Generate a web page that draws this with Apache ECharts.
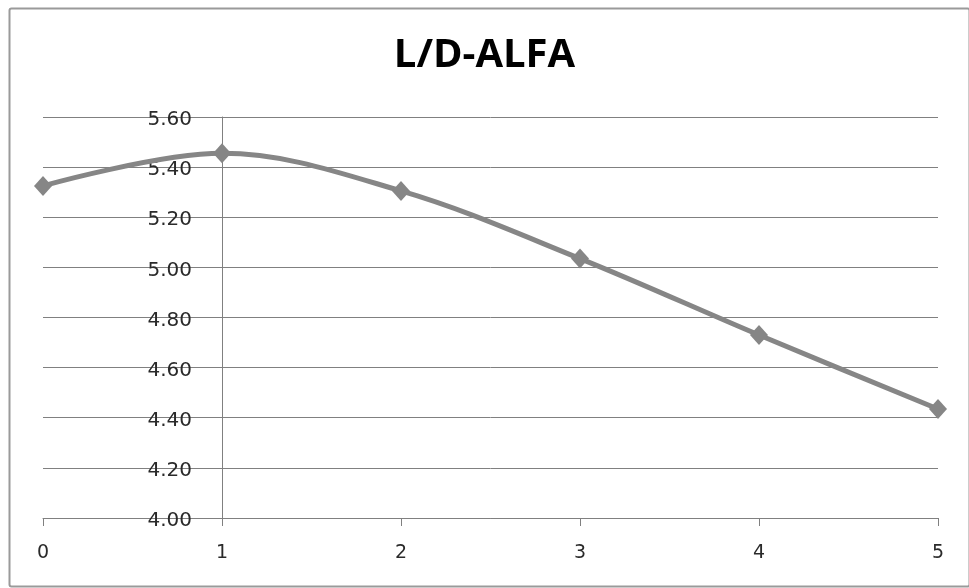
<!DOCTYPE html>
<html><head><meta charset="utf-8">
<script src="https://cdn.jsdelivr.net/npm/echarts@6/dist/echarts.min.js"></script>
<style>html,body{margin:0;padding:0;background:#fff}#c{width:969px;height:588px}</style>
</head><body><div id="c"></div>
<script>
const titleText = 'L/D-ALFA';
const alfa = [0, 1, 2, 3, 4, 5];
const ldRatio = [5.325, 5.455, 5.305, 5.035, 4.73, 4.435];
const yTicks = {min: 4.0, max: 5.6, step: 0.2};
const xTicks = {min: 0, max: 5, step: 1};

const chart = echarts.init(document.getElementById('c'));
chart.setOption({
  animation: false,
  backgroundColor: '#fff',
  graphic: [{
    type: 'rect', left: 7, top: 6,
    shape: {width: 960, height: 578, r: 2},
    style: {fill: 'none', stroke: '#9a9a9a', lineWidth: 2}, z: -1
  }],
  title: {
    text: titleText, left: 'center', top: 31,
    textStyle: {fontFamily: 'Open Sans', fontWeight: 'bold', fontSize: 40, color: '#000'}
  },
  grid: {left: 43, right: 31, top: 117, bottom: 70},
  xAxis: {
    type: 'value', min: xTicks.min, max: xTicks.max, interval: xTicks.step,
    axisLine: {show: true, onZero: false, lineStyle: {color: '#808080', width: 1}},
    axisTick: {show: true, length: 8, lineStyle: {color: '#808080'}},
    axisLabel: {margin: 26, color: '#2a2a2a', fontSize: 19, fontFamily: 'DejaVu Sans'},
    splitLine: {show: false}
  },
  yAxis: {
    type: 'value', min: yTicks.min, max: yTicks.max, interval: yTicks.step,
    offset: -179,
    axisLine: {show: true, lineStyle: {color: '#808080', width: 1}},
    axisTick: {show: false},
    axisLabel: {margin: 30, color: '#2a2a2a', fontSize: 20, fontFamily: 'DejaVu Sans',
      formatter: v => '{v|' + v.toFixed(2) + '}',
      rich: {v: {fontSize: 20, fontFamily: 'DejaVu Sans', color: '#2a2a2a', padding: [6, 0, 0, 0]}}},
    splitLine: {show: true, lineStyle: {color: '#808080', width: 1}}
  },
  series: [{
    type: 'line',
    data: alfa.map((x, i) => [x, ldRatio[i]]),
    smooth: 0.35,
    symbol: 'diamond', symbolSize: [18, 20],
    lineStyle: {color: '#868686', width: 5},
    itemStyle: {color: '#868686'}
  }]
});
</script></body></html>
